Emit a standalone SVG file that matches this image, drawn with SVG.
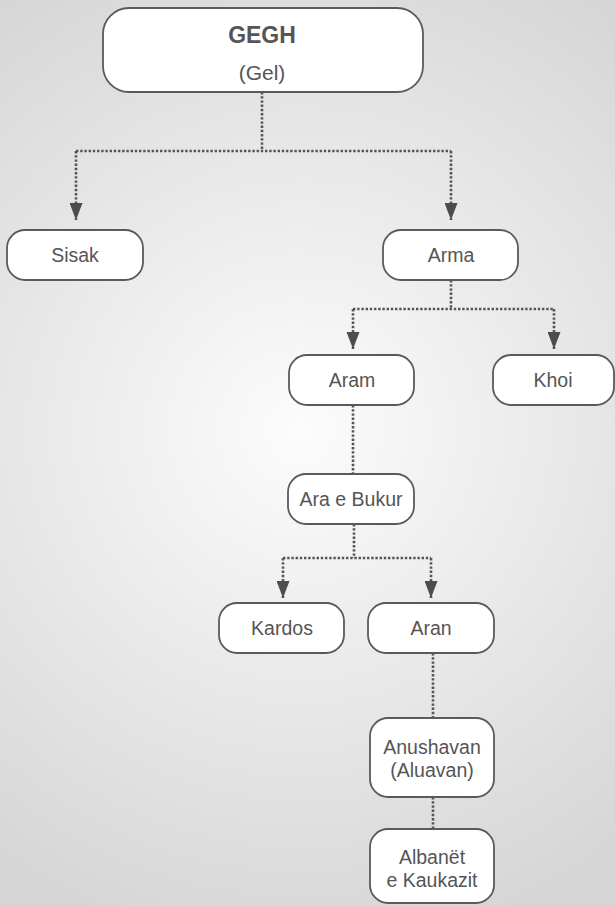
<svg xmlns="http://www.w3.org/2000/svg" width="615" height="906" viewBox="0 0 615 906">
<defs>
<radialGradient id="bg" cx="300" cy="430" r="520" gradientUnits="userSpaceOnUse">
<stop offset="0" stop-color="#fcfcfc"/>
<stop offset="1" stop-color="#d6d6d6"/>
</radialGradient>
<marker id="arr" viewBox="0 0 17 13" refX="17" refY="6.5" markerWidth="17" markerHeight="13" markerUnits="userSpaceOnUse" orient="auto">
<path d="M0,0 L17,6.5 L0,13 Z" fill="#4d4d4d"/>
</marker>
<style>
.box{fill:#fff;stroke:#5a5a5a;stroke-width:1.8}
.t{font-family:"Liberation Sans",Arial,sans-serif;font-size:19.5px;fill:#555;text-anchor:middle}
.b{font-weight:bold;font-size:23px}
.c{fill:none;stroke:#555;stroke-width:2.6;stroke-dasharray:2.4 1.8}
</style>
</defs>
<rect width="615" height="906" fill="url(#bg)"/>
<g id="connectors">
<path class="c" d="M262,92 V151 M76,151 H451"/>
<path class="c" d="M76,151 V220" marker-end="url(#arr)"/>
<path class="c" d="M451,151 V220" marker-end="url(#arr)"/>
<path class="c" d="M451,280 V309 M353,309 H554"/>
<path class="c" d="M353,309 V349" marker-end="url(#arr)"/>
<path class="c" d="M554,309 V349" marker-end="url(#arr)"/>
<path class="c" d="M353,405 V474"/>
<path class="c" d="M354,524 V558 M283,558 H431"/>
<path class="c" d="M283,558 V598" marker-end="url(#arr)"/>
<path class="c" d="M431,558 V598" marker-end="url(#arr)"/>
<path class="c" d="M433,653 V718"/>
<path class="c" d="M433,797 V829"/>
</g>
<g id="gegh">
<rect class="box" x="103" y="8" width="320" height="84" rx="26"/>
<text class="t b" x="262" y="43">GEGH</text>
<text class="t" x="262" y="80" style="font-size:21px">(Gel)</text>
</g>
<g id="sisak">
<rect class="box" x="7" y="230" width="136" height="50" rx="18"/>
<text class="t" x="75" y="262">Sisak</text>
</g>
<g id="arma">
<rect class="box" x="383" y="230" width="135" height="50" rx="18"/>
<text class="t" x="451" y="262">Arma</text>
</g>
<g id="aram">
<rect class="box" x="289" y="355" width="125" height="50" rx="18"/>
<text class="t" x="352" y="387">Aram</text>
</g>
<g id="khoi">
<rect class="box" x="493" y="355" width="121" height="50" rx="18"/>
<text class="t" x="553" y="387">Khoi</text>
</g>
<g id="ara-e-bukur">
<rect class="box" x="288" y="474" width="126" height="50" rx="18"/>
<text class="t" x="351" y="506">Ara e Bukur</text>
</g>
<g id="kardos">
<rect class="box" x="219" y="603" width="125" height="50" rx="18"/>
<text class="t" x="282" y="635">Kardos</text>
</g>
<g id="aran">
<rect class="box" x="368" y="603" width="126" height="50" rx="18"/>
<text class="t" x="431" y="635">Aran</text>
</g>
<g id="anushavan">
<rect class="box" x="370" y="718" width="124" height="79" rx="18"/>
<text class="t" x="432" y="754">Anushavan</text>
<text class="t" x="432" y="777">(Aluavan)</text>
</g>
<g id="albanet">
<rect class="box" x="370" y="829" width="124" height="74" rx="18"/>
<text class="t" x="432" y="864">Albanët</text>
<text class="t" x="432" y="887">e Kaukazit</text>
</g>
</svg>
